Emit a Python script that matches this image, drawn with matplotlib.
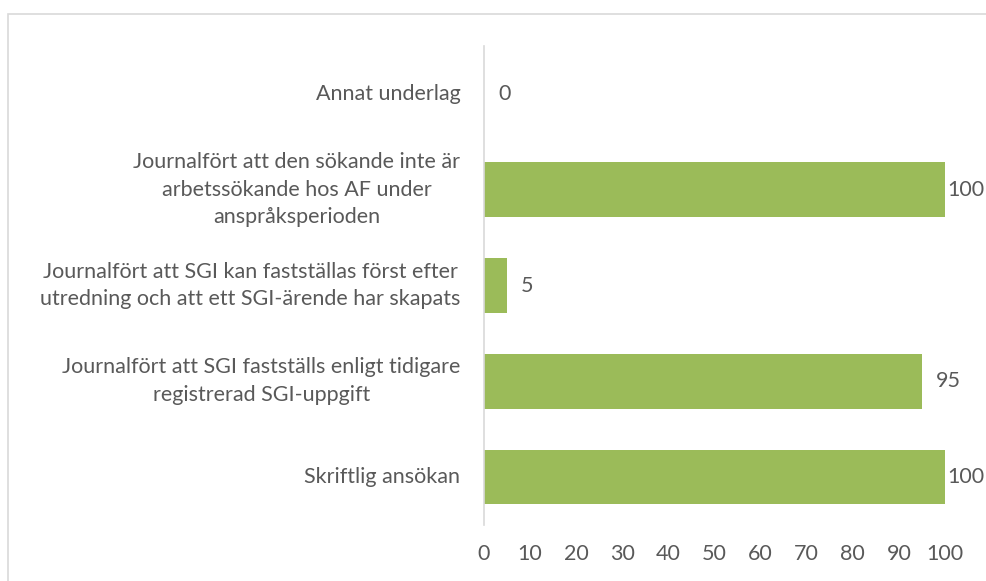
import matplotlib.pyplot as plt
from matplotlib.patches import Rectangle

# Data (bottom to top as drawn)
categories = [
    'Skriftlig ansökan',
    'Journalfört att SGI fastställs enligt tidigare\nregistrerad SGI-uppgift',
    'Journalfört att SGI kan fastställas först efter\nutredning och att ett SGI-ärende har skapats',
    'Journalfört att den sökande inte är\narbetssökande hos AF under\nanspråksperioden',
    'Annat underlag',
]
values = [100, 95, 5, 100, 0]
xticks = list(range(0, 101, 10))

plt.rcParams['font.family'] = ['Lato', 'DejaVu Sans']
text_color = '#595959'
fs = 15.5

fig = plt.figure(figsize=(9.87, 5.81), dpi=100)
W, H = 987, 581

# Light grey chart border (extends past right/bottom edge)
fig.patches.append(Rectangle((8 / W, -0.1), 1.2, 1 - 14 / H + 0.1,
                             transform=fig.transFigure, fill=False,
                             edgecolor='#d9d9d9', linewidth=1.2))

ax = fig.add_axes([484 / W, 1 - 525 / H, (945 - 484) / W, (525 - 46) / H])
bars = ax.barh(range(len(values)), values, height=0.57, color='#9BBB59')

ax.set_xlim(0, 100)
ax.set_ylim(-0.5, len(values) - 0.5)
ax.set_xticks(xticks)
ax.set_yticks(range(len(values)))
ax.set_yticklabels(categories, multialignment='center', linespacing=1.48)
for lbl in ax.get_yticklabels():
    lbl.set_va('center')

ax.tick_params(axis='both', length=0, labelsize=fs, colors=text_color)
ax.tick_params(axis='y', pad=17)
ax.tick_params(axis='x', pad=14)

for s in ['top', 'right', 'bottom']:
    ax.spines[s].set_visible(False)
ax.spines['left'].set_color('#d9d9d9')
ax.spines['left'].set_linewidth(1.2)

# value labels: labels at the axis end sit tight against the bar
for bar, v in zip(bars, values):
    pad = 2 if v >= 100 else 10
    ax.annotate(f'{v}', (bar.get_width(), bar.get_y() + bar.get_height() / 2),
                xytext=(pad, 0), textcoords='offset points',
                ha='left', va='center', fontsize=fs, color=text_color,
                annotation_clip=False)

plt.savefig('out.png', dpi=100)
